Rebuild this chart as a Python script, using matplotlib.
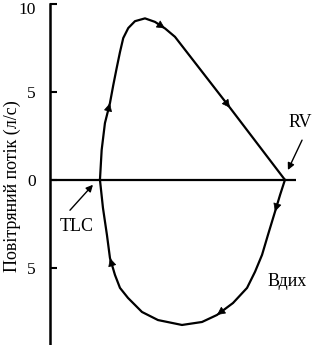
import numpy as np
import matplotlib
matplotlib.use('Agg')
import matplotlib.pyplot as plt
import matplotlib.transforms as mtransforms

plt.rcParams.update({'font.family': 'Liberation Serif', 'font.size': 12})

# крива видиху: від TLC до RV (об'єм у л, потік у л/с)
exp_vol = [0.0, 0.046, 0.134, 0.269, 0.358, 0.449, 0.538, 0.626, 0.761, 0.941,
           1.210, 1.478, 1.747, 2.016, 3.495, 4.97]
exp_flow = [0.0, 1.70, 3.23, 4.37, 5.39, 6.36, 7.27, 8.07, 8.64, 9.03,
            9.19, 8.99, 8.62, 8.14, 4.10, 0.0]

# крива вдиху: від RV до TLC
insp_vol = [4.97, 4.839, 4.704, 4.516, 4.355, 4.167, 3.952, 3.575, 3.145, 2.742,
            2.204, 1.559, 1.129, 0.753, 0.538, 0.403, 0.269, 0.188, 0.081, 0.0]
insp_flow = [0.0, -0.86, -1.81, -3.12, -4.27, -5.23, -6.15, -7.01, -7.69, -8.09,
             -8.26, -7.98, -7.52, -6.72, -6.15, -5.41, -4.45, -3.14, -1.60, 0.0]

# індекси точок, де стоять стрілки
exp_arrows = [3, 12, 14]
insp_arrows = [2, 8, 16]

yticks = [10, 5, 0, -5]
ytick_labels = ['10', '5', '0', '5']

fig = plt.figure(figsize=(3.14, 3.45), dpi=100)
ax = fig.add_axes([0.159, 0.0, 0.784, 0.988])

ax.plot(exp_vol, exp_flow, color='k', lw=1.6, solid_joinstyle='round')
ax.plot(insp_vol, insp_flow, color='k', lw=1.6, solid_joinstyle='round')

def add_arrows(xs, ys, idxs):
    for i in idxs:
        ax.annotate('', xy=(xs[i], ys[i]), xytext=(xs[i - 1], ys[i - 1]),
                    arrowprops=dict(arrowstyle='-|>', color='k', lw=0.5,
                                    mutation_scale=13, shrinkA=0, shrinkB=0))

add_arrows(exp_vol, exp_flow, exp_arrows)
add_arrows(insp_vol, insp_flow, insp_arrows)

ax.axhline(0, color='k', lw=1.6)

ax.set_xlim(-1.344, 5.27)
ax.set_ylim(-9.4, 10)
for s in ['top', 'right', 'bottom']:
    ax.spines[s].set_visible(False)
ax.spines['left'].set_linewidth(1.8)
ax.set_xticks([])
ax.set_yticks(yticks)
ax.set_yticklabels(ytick_labels)
ax.tick_params(axis='y', direction='in', length=5, width=1.5, pad=10, labelsize=12.5)

# верхня мітка "10" трохи нижче, щоб не обрізалась
top_lab = ax.get_yticklabels()[0]
top_lab.set_transform(top_lab.get_transform() +
                      mtransforms.ScaledTranslation(0, -0.04, fig.dpi_scale_trans))

ax.set_ylabel('Повітряний потік (л/с)', fontsize=13)
ax.yaxis.set_label_coords(-0.118, 0.466)

# підписи TLC, RV, Вдих
ax.annotate('', xy=(-0.188, -0.28), xytext=(-0.806, -1.73),
            arrowprops=dict(arrowstyle='-|>', color='k', lw=1.0,
                            mutation_scale=10, shrinkA=0, shrinkB=0))
ax.text(-0.618, -2.63, 'TLC', ha='center', va='center', fontsize=13)

ax.annotate('', xy=(5.05, 0.56), xytext=(5.43, 2.26), annotation_clip=False,
            arrowprops=dict(arrowstyle='-|>', color='k', lw=1.0,
                            mutation_scale=10, shrinkA=0, shrinkB=0))
ax.text(5.376, 3.29, 'RV', ha='center', va='center', fontsize=13)

ax.text(5.03, -5.76, 'Вдих', ha='center', va='center', fontsize=13)

fig.savefig('out.png', dpi=100)
